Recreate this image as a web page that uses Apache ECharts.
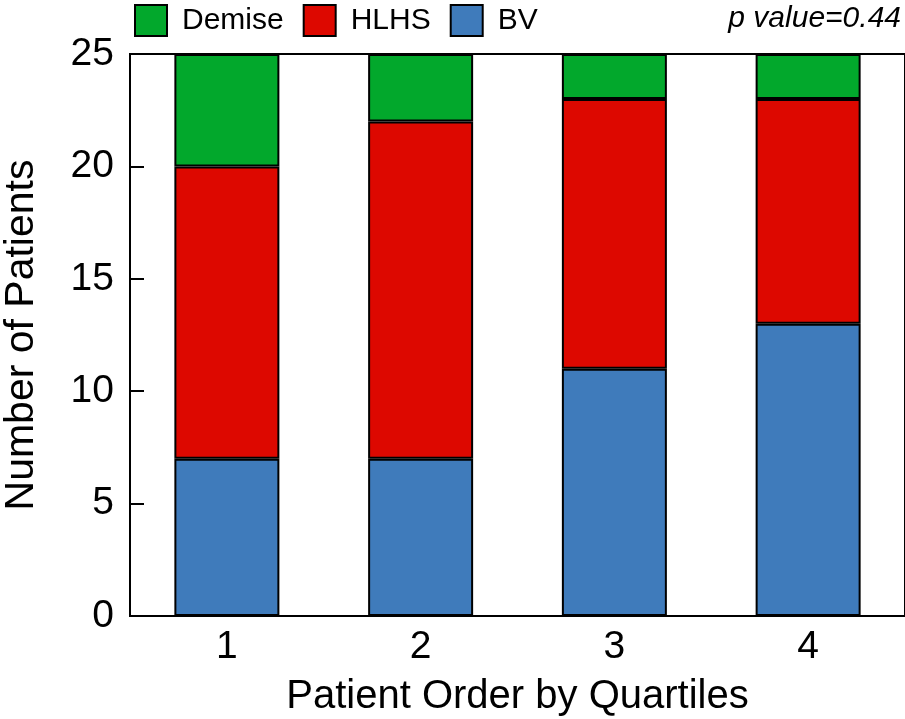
<!DOCTYPE html>
<html>
<head>
<meta charset="utf-8">
<script src="https://cdn.jsdelivr.net/npm/echarts@6/dist/echarts.min.js"></script>
<style>
html,body{margin:0;padding:0;background:#fff;}
#chart{width:905px;height:719px;}
</style>
</head>
<body>
<div id="chart"></div>
<script>
var categories = ['1', '2', '3', '4'];
var bvValues = [7, 7, 11, 13];
var hlhsValues = [13, 15, 12, 10];
var demiseValues = [5, 3, 2, 2];
var yTicks = [0, 5, 10, 15, 20, 25];
var pValueText = 'p value=0.44';

var FONT = '"Liberation Sans", Arial, sans-serif';
var chart = echarts.init(document.getElementById('chart'));

function barSeries(name, data, color) {
  return {
    name: name,
    type: 'bar',
    stack: 'total',
    data: data,
    barWidth: 105,
    itemStyle: { color: color, borderColor: '#000', borderWidth: 2 }
  };
}

chart.setOption({
  animation: false,
  backgroundColor: '#fff',
  grid: {
    left: 130, right: 0, top: 54, bottom: 103,
    containLabel: false,
    outerBoundsMode: 'none',
    show: true, borderColor: '#000', borderWidth: 2, backgroundColor: 'transparent'
  },
  legend: {
    data: ['Demise', 'HLHS', 'BV'],
    left: 134, top: 4,
    padding: 0,
    icon: 'rect',
    itemWidth: 32, itemHeight: 31,
    itemGap: 19,
    itemStyle: { borderColor: '#000', borderWidth: 2 },
    textStyle: { fontFamily: FONT, fontSize: 30, color: '#000', padding: [0, 0, 0, 10] }
  },
  graphic: [{
    type: 'text',
    right: 4, top: 4,
    style: {
      text: pValueText,
      font: 'italic 30px ' + FONT,
      fill: '#000'
    }
  }],
  xAxis: {
    type: 'category',
    data: categories,
    name: 'Patient Order by Quartiles',
    nameLocation: 'middle',
    nameGap: 61,
    nameTextStyle: { fontFamily: FONT, fontSize: 40, color: '#000' },
    axisLine: { lineStyle: { color: '#000', width: 2 } },
    axisTick: { show: false },
    axisLabel: { fontFamily: FONT, fontSize: 39, color: '#000', margin: 12 }
  },
  yAxis: {
    type: 'value',
    min: yTicks[0], max: yTicks[yTicks.length - 1], interval: 5,
    name: 'Number of Patients',
    nameLocation: 'middle',
    nameGap: 88,
    nameRotate: 90,
    nameTextStyle: { fontFamily: FONT, fontSize: 41, color: '#000' },
    axisLine: { show: true, lineStyle: { color: '#000', width: 2 } },
    axisTick: { show: true, inside: true, length: 14, lineStyle: { color: '#000', width: 2 } },
    splitLine: { show: false },
    axisLabel: { fontFamily: FONT, fontSize: 39, color: '#000', margin: 16 }
  },
  series: [
    barSeries('BV', bvValues, '#3f7bbb'),
    barSeries('HLHS', hlhsValues, '#dd0800'),
    barSeries('Demise', demiseValues, '#02a82c')
  ]
});
</script>
</body>
</html>
